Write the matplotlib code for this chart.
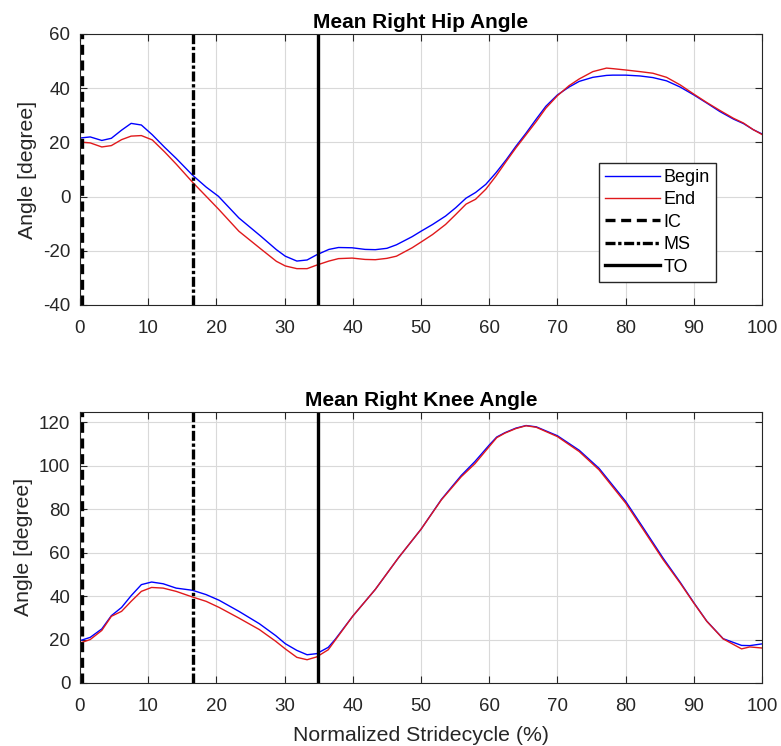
import numpy as np
import matplotlib
matplotlib.use("Agg")
import matplotlib.pyplot as plt

plt.rcParams["font.family"] = ["Liberation Sans", "DejaVu Sans"]
plt.rcParams["axes.unicode_minus"] = False

# Hip angle (degree), sampled along the normalized stride cycle (%)
hip_x = [0, 1.5, 3.2, 4.6, 6.1, 7.5, 9.0, 10.6, 12.4, 14.1, 16.5, 18.5, 20.3, 23.3, 26.5,
         28.8, 30.1, 31.8, 33.3, 34.7, 36.5, 37.9, 39.9, 41.8, 43.3, 45.0, 46.4, 48.7,
         50.0, 51.7, 53.6, 55.1, 56.6, 58.0, 59.5, 61.0, 62.5, 63.9, 65.4, 66.9, 68.3,
         70.0, 71.7, 73.2, 75.2, 77.2, 78.1, 80.0, 82.1, 84.0, 86.0, 88.0, 90.0, 91.9,
         93.8, 95.8, 97.3, 98.7, 100]
hip_begin = [21.6, 22.0, 20.7, 21.5, 24.5, 27.0, 26.4, 22.8, 18.2, 14.1, 7.9, 3.5, 0.1, -7.9, -14.6,
             -19.6, -22.0, -23.8, -23.4, -21.5, -19.5, -18.8, -18.9, -19.5, -19.6, -19.1, -17.8, -14.8,
             -12.8, -10.3, -7.2, -4.1, -0.6, 1.5, 4.5, 8.8, 13.6, 18.5, 23.4, 28.6, 33.3,
             37.5, 40.4, 42.5, 44.0, 44.7, 44.8, 44.8, 44.5, 43.9, 42.7, 40.4, 37.5, 34.5,
             31.4, 28.6, 26.9, 24.7, 23.1]
hip_end = [20.1, 19.8, 18.3, 18.8, 21.0, 22.3, 22.5, 20.9, 16.5, 12.0, 5.3, 0.1, -4.6, -12.8, -19.3,
           -23.9, -25.6, -26.6, -26.6, -25.3, -23.8, -22.9, -22.7, -23.2, -23.3, -22.8, -22.0, -18.9,
           -16.8, -14.0, -10.3, -6.6, -2.8, -1.0, 2.7, 7.6, 13.0, 17.9, 22.8, 27.7, 32.6,
           37.2, 40.9, 43.4, 46.1, 47.4, 47.2, 46.7, 46.1, 45.5, 44.0, 41.2, 37.8, 34.7,
           31.8, 28.9, 27.1, 24.7, 22.9]

# Knee angle (degree)
knee_x = [0, 1.5, 3.2, 4.6, 6.1, 7.5, 9.0, 10.5, 12.2, 14.1, 16.5, 18.5, 20.4, 23.3, 26.3,
          28.7, 30.1, 31.8, 33.3, 34.7, 36.4, 37.4, 40.0, 43.3, 46.7, 50.0, 53.0, 55.9,
          57.9, 60.0, 61.1, 62.3, 63.9, 65.4, 66.9, 70.0, 73.2, 76.1, 80.0, 82.6, 85.5,
          88.0, 90.0, 91.9, 94.3, 97.0, 98.2, 100]
knee_begin = [19.5, 21.0, 24.9, 31.0, 34.8, 40.2, 45.3, 46.5, 45.7, 43.7, 42.7, 40.7, 38.1, 33.0, 27.3,
              21.8, 18.1, 15.0, 13.0, 13.5, 16.4, 20.0, 30.8, 43.1, 57.7, 70.8, 84.6, 95.6,
              102.0, 109.6, 113.3, 115.3, 117.4, 118.6, 118.0, 113.9, 107.2, 98.9, 83.7, 71.4, 57.5,
              46.4, 37.0, 28.5, 20.4, 17.3, 17.2, 18.0]
knee_end = [18.4, 20.0, 24.2, 30.7, 33.0, 37.6, 42.2, 44.0, 43.7, 42.2, 39.6, 37.6, 34.8, 29.9, 24.6,
            19.2, 15.7, 11.8, 10.7, 12.0, 15.3, 19.6, 30.8, 43.1, 57.7, 70.8, 84.4, 95.0,
            101.0, 108.9, 113.0, 115.1, 117.2, 118.5, 117.8, 113.5, 106.6, 98.2, 82.9, 70.6, 56.8,
            46.0, 36.8, 28.4, 20.3, 15.7, 16.6, 16.1]

# gait events (% stride)
ic, ms, to = 0.3, 16.6, 34.9

fig = plt.figure(figsize=(7.81, 7.46), dpi=100)
ax1 = fig.add_axes([0.1024, 0.5912, 0.8733, 0.3633])
ax2 = fig.add_axes([0.1024, 0.0845, 0.8733, 0.3637])

panels = [
    (ax1, hip_x, hip_begin, hip_end, "Mean Right Hip Angle", (-40, 60), np.arange(-40, 61, 20)),
    (ax2, knee_x, knee_begin, knee_end, "Mean Right Knee Angle", (0, 125), np.arange(0, 121, 20)),
]

for ax, x, b, e, title, ylim, yticks in panels:
    ax.plot(x, b, color="#0000ff", lw=1.0, label="Begin")
    ax.plot(x, e, color="#e0191b", lw=1.0, label="End")
    ax.axvline(ic, color="k", lw=2.4, ls=(0, (3, 1.7)), label="IC")
    ax.axvline(ms, color="k", lw=2.4, ls=(0, (3, 0.8, 1, 0.8)), label="MS")
    ax.axvline(to, color="k", lw=2.4, ls="-", label="TO")
    ax.set_xlim(0, 100)
    ax.set_ylim(*ylim)
    ax.set_xticks(np.arange(0, 101, 10))
    ax.set_yticks(yticks)
    ax.grid(True, color="#d9d9d9", lw=0.8)
    ax.set_axisbelow(True)
    ax.tick_params(direction="in", top=True, right=True, labelsize=13.5,
                   colors="#262626", length=5)
    ax.tick_params(axis="x", pad=11)
    ax.tick_params(axis="y", pad=7)
    for s in ax.spines.values():
        s.set_color("#262626")
        s.set_linewidth(0.8)
    ax.set_title(title, fontsize=15, fontweight="bold", pad=4)
    ax.set_ylabel("Angle [degree]", fontsize=15.3, color="#262626", labelpad=4)

ax1.legend(loc="lower left", bbox_to_anchor=(0.748, 0.052), fontsize=13, handlelength=3.0,
           handletextpad=0.2, labelspacing=0.3, borderpad=0.35, fancybox=False,
           edgecolor="#262626", framealpha=1)
ax2.set_xlabel("Normalized Stridecycle (%)", fontsize=15.3, color="#262626", labelpad=8)

fig.savefig("out.png", dpi=100)
